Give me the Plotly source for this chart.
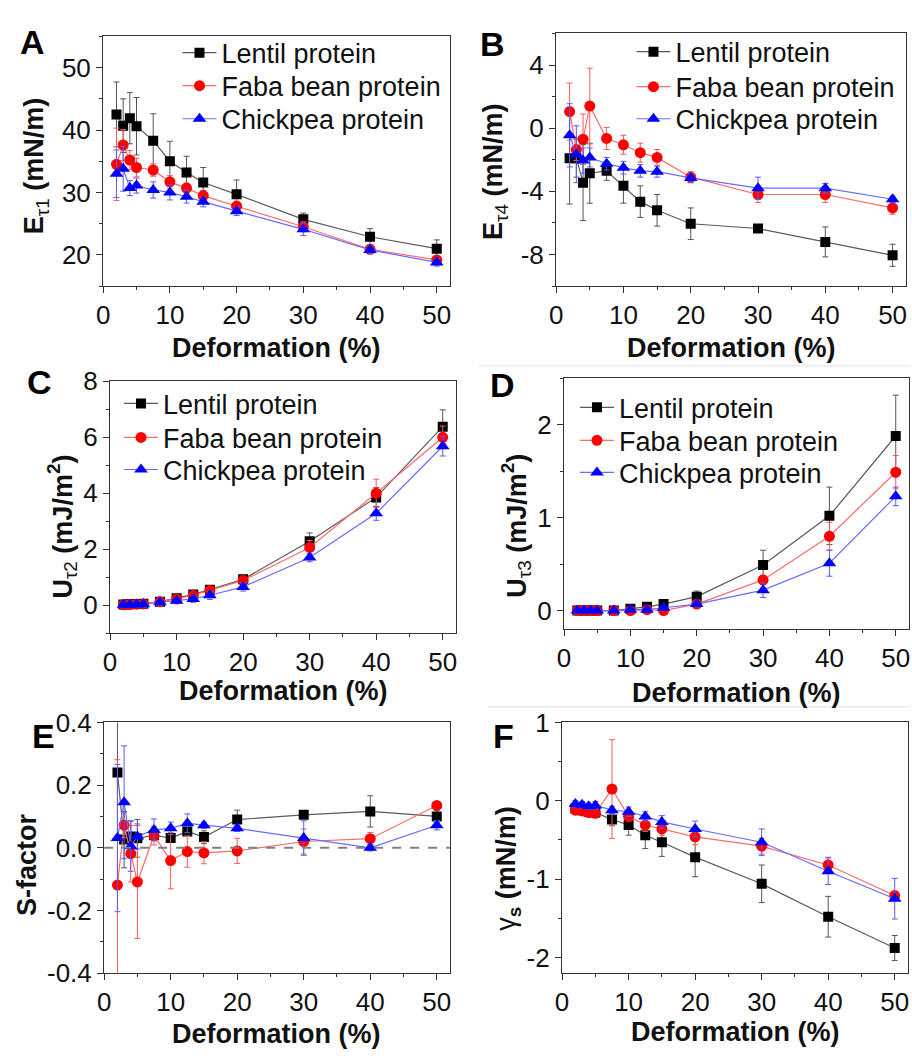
import plotly.graph_objects as go

# ---------------- data ----------------
deformation = [2, 3, 4, 5, 7.5, 10, 12.5, 15, 20, 30, 40, 50]
series_names = ["Lentil protein", "Faba bean protein", "Chickpea protein"]

# Panel A  E_t1 (mN/m)
lentil_A = [42.5, 40.7, 41.9, 40.6, 38.3, 35.0, 33.2, 31.6, 29.7, 25.7, 22.9, 21.0]
lentil_A_err = [5.2, 4.3, 4.1, 4.6, 4.3, 3.2, 2.6, 2.4, 2.3, 1.0, 1.3, 1.4]
faba_A = [34.5, 37.6, 35.2, 34.0, 33.6, 31.7, 30.7, 29.5, 27.8, 24.5, 20.9, 19.2]
faba_A_err = [5.8, 2.5, 1.5, 1.5, 1.0, 1.0, 0.8, 0.8, 0.8, 0.8, 0.7, 0.5]
chick_A = [33.0, 33.8, 30.7, 31.1, 30.4, 30.0, 29.3, 28.5, 27.0, 24.1, 20.8, 18.8]
chick_A_err = [3.8, 3.6, 1.2, 1.2, 1.3, 1.2, 1.0, 0.8, 0.7, 1.0, 0.6, 0.6]

# Panel B  E_t4 (mN/m)
lentil_B = [-1.9, -1.9, -3.45, -2.85, -2.7, -3.65, -4.65, -5.2, -6.05, -6.35, -7.2, -8.05]
lentil_B_err = [2.9, 1.2, 2.4, 1.9, 0.6, 1.1, 1.0, 1.0, 1.0, 0.2, 0.95, 0.7]
faba_B = [1.05, -1.35, -0.7, 1.4, -0.65, -1.05, -1.55, -1.85, -3.1, -4.2, -4.2, -5.05]
faba_B_err = [1.8, 0.7, 1.6, 2.4, 0.7, 0.6, 0.6, 0.5, 0.35, 0.5, 0.5, 0.4]
chick_B = [-0.45, -1.65, -2.05, -1.85, -2.25, -2.5, -2.7, -2.75, -3.15, -3.8, -3.8, -4.5]
chick_B_err = [2.0, 1.8, 0.8, 0.6, 0.4, 0.4, 0.4, 0.35, 0.3, 0.7, 0.3, 0.2]

# Panel C  U_t2 (mJ/m2)
lentil_C = [0.02, 0.03, 0.04, 0.05, 0.12, 0.24, 0.38, 0.55, 0.92, 2.28, 3.85, 6.38]
lentil_C_err = [0.02, 0.02, 0.02, 0.03, 0.04, 0.06, 0.08, 0.1, 0.15, 0.3, 0.35, 0.6]
faba_C = [0.01, 0.02, 0.03, 0.04, 0.12, 0.22, 0.35, 0.52, 0.88, 2.06, 4.0, 6.0]
faba_C_err = [0.02, 0.02, 0.02, 0.03, 0.04, 0.06, 0.08, 0.1, 0.15, 0.25, 0.5, 0.4]
chick_C = [0.01, 0.01, 0.02, 0.03, 0.1, 0.15, 0.22, 0.35, 0.65, 1.7, 3.28, 5.68]
chick_C_err = [0.1, 0.1, 0.1, 0.1, 0.1, 0.1, 0.12, 0.15, 0.15, 0.15, 0.25, 0.35]

# Panel D  U_t3 (mJ/m2)
lentil_D = [0.0, 0.0, 0.0, 0.0, 0.0, 0.02, 0.04, 0.07, 0.15, 0.49, 1.02, 1.88]
lentil_D_err = [0.01, 0.01, 0.01, 0.01, 0.01, 0.02, 0.02, 0.03, 0.06, 0.16, 0.31, 0.44]
faba_D = [0.0, 0.0, 0.0, 0.0, 0.0, 0.0, 0.01, 0.0, 0.07, 0.33, 0.8, 1.49]
faba_D_err = [0.01, 0.01, 0.01, 0.01, 0.01, 0.01, 0.02, 0.02, 0.03, 0.05, 0.15, 0.18]
chick_D = [0.0, 0.0, 0.0, 0.0, 0.0, 0.01, 0.01, 0.03, 0.07, 0.22, 0.51, 1.23]
chick_D_err = [0.01, 0.01, 0.01, 0.01, 0.01, 0.01, 0.02, 0.02, 0.03, 0.08, 0.14, 0.1]

# Panel E  S-factor
lentil_E = [0.24, 0.026, 0.036, 0.03, 0.04, 0.031, 0.052, 0.034, 0.09, 0.105, 0.116, 0.1]
lentil_E_err = [0.2, 0.09, 0.05, 0.06, 0.015, 0.01, 0.01, 0.02, 0.03, 0.01, 0.05, 0.02]
faba_E = [-0.119, 0.072, -0.019, -0.109, 0.039, -0.041, -0.012, -0.016, -0.01, 0.02, 0.029, 0.135]
faba_E_err = [0.4, 0.04, 0.09, 0.18, 0.03, 0.09, 0.05, 0.035, 0.04, 0.04, 0.02, 0.01]
chick_E = [0.031, 0.145, 0.005, 0.036, 0.057, 0.062, 0.078, 0.072, 0.062, 0.031, 0.0, 0.072]
chick_E_err = [0.235, 0.18, 0.08, 0.04, 0.035, 0.02, 0.03, 0.01, 0.01, 0.055, 0.01, 0.015]

# Panel F  gamma_s (mN/m)
lentil_F = [-0.1, -0.12, -0.14, -0.15, -0.24, -0.31, -0.44, -0.53, -0.72, -1.06, -1.48, -1.88]
lentil_F_err = [0.05, 0.05, 0.05, 0.06, 0.08, 0.13, 0.17, 0.18, 0.25, 0.24, 0.26, 0.16]
faba_F = [-0.12, -0.13, -0.15, -0.16, 0.15, -0.2, -0.31, -0.36, -0.46, -0.58, -0.82, -1.21]
faba_F_err = [0.04, 0.04, 0.04, 0.05, 0.63, 0.06, 0.08, 0.08, 0.1, 0.1, 0.1, 0.05]
chick_F = [-0.04, -0.05, -0.07, -0.06, -0.12, -0.14, -0.2, -0.27, -0.36, -0.53, -0.9, -1.25]
chick_F_err = [0.04, 0.04, 0.04, 0.05, 0.05, 0.06, 0.06, 0.08, 0.1, 0.17, 0.17, 0.26]

# tick labels
x_ticks = [0, 10, 20, 30, 40, 50]
x_ticklabels = ["0", "10", "20", "30", "40", "50"]
yA_ticks, yA_labels = [20, 30, 40, 50], ["20", "30", "40", "50"]
yB_ticks, yB_labels = [-8, -4, 0, 4], ["-8", "-4", "0", "4"]
yC_ticks, yC_labels = [0, 2, 4, 6, 8], ["0", "2", "4", "6", "8"]
yD_ticks, yD_labels = [0, 1, 2], ["0", "1", "2"]
yE_ticks, yE_labels = [-0.4, -0.2, 0.0, 0.2, 0.4], ["-0.4", "-0.2", "0.0", "0.2", "0.4"]
yF_ticks, yF_labels = [-2, -1, 0, 1], ["-2", "-1", "0", "1"]

# ---------------- layout helpers ----------------
W, H = 912, 1061
FONT = "Arial, Liberation Sans, sans-serif"


def px_x(p):
    return p / W


def px_y(p):
    return 1 - p / H


# legend placement per panel: (text start x, [row centre y for each series])
legend_rows = {
    "A": (216, [38, 72, 106]),
    "B": (674, [37, 73, 106]),
    "C": (157, [399, 434, 467]),
    "D": (617, [403, 437, 470]),
}

panels = [
    # name, box (l, t, r, b), y range, yticks, ylabels, yminor
    ("A", (97, 22, 447, 279), [15, 55], yA_ticks, yA_labels, 5),
    ("B", (554, 19, 907, 279), [-10, 6], yB_ticks, yB_labels, 2),
    ("C", (104, 377, 453, 636), [-1, 8], yC_ticks, yC_labels, 1),
    ("D", (562, 374, 910, 632), [-0.2, 2.5], yD_ticks, yD_labels, 0.5),
    ("E", (98, 728, 447, 986), [-0.4, 0.4], yE_ticks, yE_labels, 0.1),
    ("F", (560, 728, 909, 986), [-2.2, 1.0], yF_ticks, yF_labels, 0.5),
]

panel_data = {
    "A": [(lentil_A, lentil_A_err), (faba_A, faba_A_err), (chick_A, chick_A_err)],
    "B": [(lentil_B, lentil_B_err), (faba_B, faba_B_err), (chick_B, chick_B_err)],
    "C": [(lentil_C, lentil_C_err), (faba_C, faba_C_err), (chick_C, chick_C_err)],
    "D": [(lentil_D, lentil_D_err), (faba_D, faba_D_err), (chick_D, chick_D_err)],
    "E": [(lentil_E, lentil_E_err), (faba_E, faba_E_err), (chick_E, chick_E_err)],
    "F": [(lentil_F, lentil_F_err), (faba_F, faba_F_err), (chick_F, chick_F_err)],
}

marker_color = ["#000000", "#ff0000", "#0000ff"]
line_color = ["#5a5a5a", "#ff6a6a", "#6a6aff"]
err_color = ["#555555", "#ff5a5a", "#5a5aff"]
symbols = ["square", "circle", "triangle-up"]
sizes = [10, 11, 12]

AX = "#333333"

fig = go.Figure()
layout = dict(
    width=W, height=H, margin=dict(l=0, r=0, t=0, b=0),
    paper_bgcolor="white", plot_bgcolor="white",
    font=dict(family=FONT, color="#111111"),
    showlegend=True,
)

legend_count = 0
for i, (name, box, yr, yt, yl, ymin) in enumerate(panels):
    n = "" if i == 0 else str(i + 1)
    l, t, r, b = box
    xa = dict(
        domain=[px_x(l), px_x(r)], range=[0, 52], anchor="y" + n,
        tickmode="array", tickvals=x_ticks, ticktext=x_ticklabels,
        ticks="outside", ticklen=6, tickwidth=1.3, tickcolor=AX,
        showline=True, linecolor=AX, linewidth=1.3, mirror=True,
        showgrid=False, zeroline=False,
        tickfont=dict(family=FONT, size=26, color="#111111"),
        minor=dict(tickmode="linear", tick0=0, dtick=5, ticks="outside",
                   ticklen=3, tickwidth=1.3, tickcolor=AX, showgrid=False),
    )
    ya = dict(
        domain=[px_y(b), px_y(t)], range=yr, anchor="x" + n,
        tickmode="array", tickvals=yt, ticktext=yl,
        ticks="outside", ticklen=6, tickwidth=1.3, tickcolor=AX,
        showline=True, linecolor=AX, linewidth=1.3, mirror=True,
        showgrid=False, zeroline=False,
        tickfont=dict(family=FONT, size=26, color="#111111"),
        minor=dict(tickmode="linear", tick0=0, dtick=ymin, ticks="outside",
                   ticklen=3, tickwidth=1.3, tickcolor=AX, showgrid=False),
    )
    layout["xaxis" + n] = xa
    layout["yaxis" + n] = ya

    for k, (vals, errs) in enumerate(panel_data[name]):
        show = name in legend_rows
        leg_key = "legend"
        if show:
            legend_count += 1
            leg_key = "legend" if legend_count == 1 else "legend%d" % legend_count
            tx, rows = legend_rows[name]
            layout[leg_key] = dict(
                x=px_x(tx - 44), y=px_y(rows[k] - 24), xanchor="left", yanchor="top",
                bgcolor="rgba(0,0,0,0)", borderwidth=0,
                font=dict(family=FONT, size=27, color="#111111"),
                itemwidth=34,
            )
        fig.add_trace(go.Scatter(
            x=deformation, y=vals, name=series_names[k],
            mode="lines+markers",
            xaxis="x" + n, yaxis="y" + n,
            line=dict(color=line_color[k], width=1.2),
            marker=dict(symbol=symbols[k], size=sizes[k], color=marker_color[k],
                        line=dict(width=0)),
            error_y=dict(type="data", array=errs, symmetric=True, visible=True,
                         color=err_color[k], thickness=1, width=3),
            showlegend=show,
            legend=leg_key,
        ))

annotations = []
# panel letters
letters = [("A", 26, 28), ("B", 490, 30), ("C", 33, 378), ("D", 500, 381), ("E", 37, 742), ("F", 501, 742)]
for txt, cx, cy in letters:
    annotations.append(dict(text="<b>%s</b>" % txt, x=px_x(cx), y=px_y(cy), xref="paper", yref="paper",
                            xanchor="center", yanchor="middle", showarrow=False,
                            font=dict(family=FONT, size=34, color="#000000")))
# x titles
xtitles = [(272, 343), (731, 343), (279, 696), (736, 698), (272, 1049), (735, 1047)]
for cx, cy in xtitles:
    annotations.append(dict(text="<b>Deformation (%)</b>", x=px_x(cx), y=px_y(cy), xref="paper", yref="paper",
                            xanchor="center", yanchor="middle", showarrow=False,
                            font=dict(family=FONT, size=27, color="#111111")))
# y titles
ytitles = [
    ("<b>E</b><sub>τ1</sub><b> (mN/m)</b>", 29, 156),
    ("<b>E</b><sub>τ4</sub><b> (mN/m)</b>", 493, 162),
    ("<b>U</b><sub>τ2</sub><b> (mJ/m</b><sup><b>2</b></sup><b>)</b>", 56, 527),
    ("<b>U</b><sub>τ3</sub><b> (mJ/m</b><sup><b>2</b></sup><b>)</b>", 514, 525),
    ("<b>S-factor</b>", 20, 874),
    ("γ<sub><b>s</b></sub><b> (mN/m)</b>", 506, 878),
]
for txt, cx, cy in ytitles:
    annotations.append(dict(text=txt, x=px_x(cx), y=px_y(cy), xref="paper", yref="paper",
                            xanchor="center", yanchor="middle", showarrow=False, textangle=-90,
                            font=dict(family=FONT, size=27, color="#111111")))
layout["annotations"] = annotations

shapes = [
    # dashed zero line in panel E
    dict(type="line", xref="x5 domain", x0=0, x1=1, yref="y5", y0=0, y1=0,
         line=dict(color="#808080", width=2, dash="dash")),
    # faint separators from the composite image
    dict(type="line", xref="paper", yref="paper", x0=px_x(476), x1=1, y0=px_y(361), y1=px_y(361),
         line=dict(color="#ececec", width=1.5)),
    dict(type="line", xref="paper", yref="paper", x0=px_x(485), x1=1, y0=px_y(712), y1=px_y(712),
         line=dict(color="#ececec", width=1.5)),
]
layout["shapes"] = shapes

fig.update_layout(**layout)
fig.write_html(
    "out.html",
    config={"displayModeBar": False},
    post_script="document.body.style.margin='0px';document.body.style.padding='0px';"
                "document.documentElement.style.overflow='hidden';",
)
